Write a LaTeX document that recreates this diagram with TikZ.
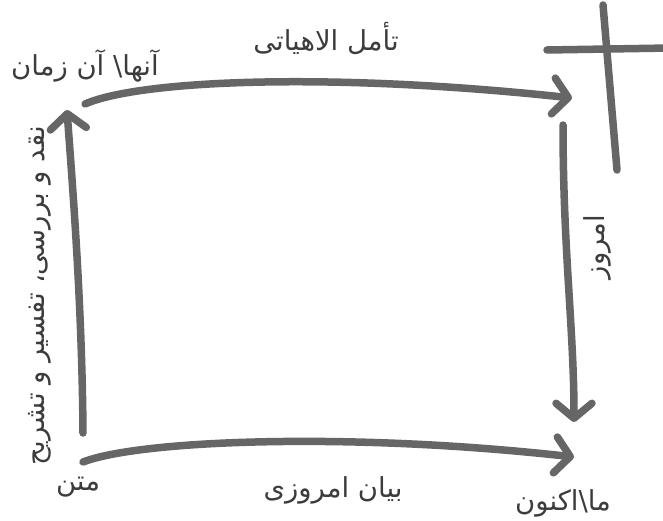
\documentclass[tikz,border=0pt]{standalone}
\usepackage{fontspec}
\usetikzlibrary{arrows.meta}
\TeXXeTstate=1
\newfontfamily\arabicfont[Script=Arabic]{DejaVu Sans}
\definecolor{strokegray}{RGB}{102,102,102}
\definecolor{textgray}{RGB}{60,60,60}
\tikzset{
  brush/.style={draw=strokegray, line width=7.5pt, line cap=round, line join=round},
  flow/.style={brush, -{Straight Barb[length=15pt, width=36pt, line cap=round, line join=round]}},
  lbl/.style={text=textgray, font=\arabicfont\fontsize{27.5}{32}\selectfont, inner sep=0pt}
}
\begin{document}
\begin{tikzpicture}[x=1pt,y=-1pt]
\useasboundingbox (0,0) rectangle (663,521);
% corner coordinates
\coordinate (ls) at (83,433);
\coordinate (lt) at (67,110);
\coordinate (ts) at (85,104);
\coordinate (tt) at (572,98);
\coordinate (rs) at (563,125);
\coordinate (rt) at (574,422);
\coordinate (bs) at (83,462);
\coordinate (bt) at (574,457);
\coordinate (cv1) at (603,5);
\coordinate (cv2) at (617,170);
\coordinate (ch1) at (547,50);
\coordinate (ch2) at (670,48);
% labels
\node[lbl] (top) at (326,38) {\beginR تأمل الاهیاتی\endR};
\node[lbl] (then) at (85,66) {\beginR آنها\textbackslash{} آن زمان\endR};
\node[lbl, rotate=90] (critique) at (40,296) {\beginR نقد و بررسی، تفسیر و تشریح\endR};
\node[lbl] (text) at (78,487) {\beginR متن\endR};
\node[lbl] (bottom) at (333,490) {\beginR بیان امروزی\endR};
\node[lbl, rotate=90] (today) at (597,247) {\beginR امروز\endR};
\node[lbl] (now) at (563,503) {\beginR ما\textbackslash اکنون\endR};
% connectors
\draw[flow] (ls) .. controls (82,300) and (72,180) .. (lt);
\draw[flow] (ts) .. controls (140,80) and (330,72) .. (tt);
\draw[flow] (rs) .. controls (563,250) and (574,330) .. (rt);
\draw[flow] (bs) .. controls (140,440) and (350,432) .. (bt);
% cross
\draw[brush] (cv1) -- (cv2);
\draw[brush] (ch1) -- (ch2);
\end{tikzpicture}
\end{document}
